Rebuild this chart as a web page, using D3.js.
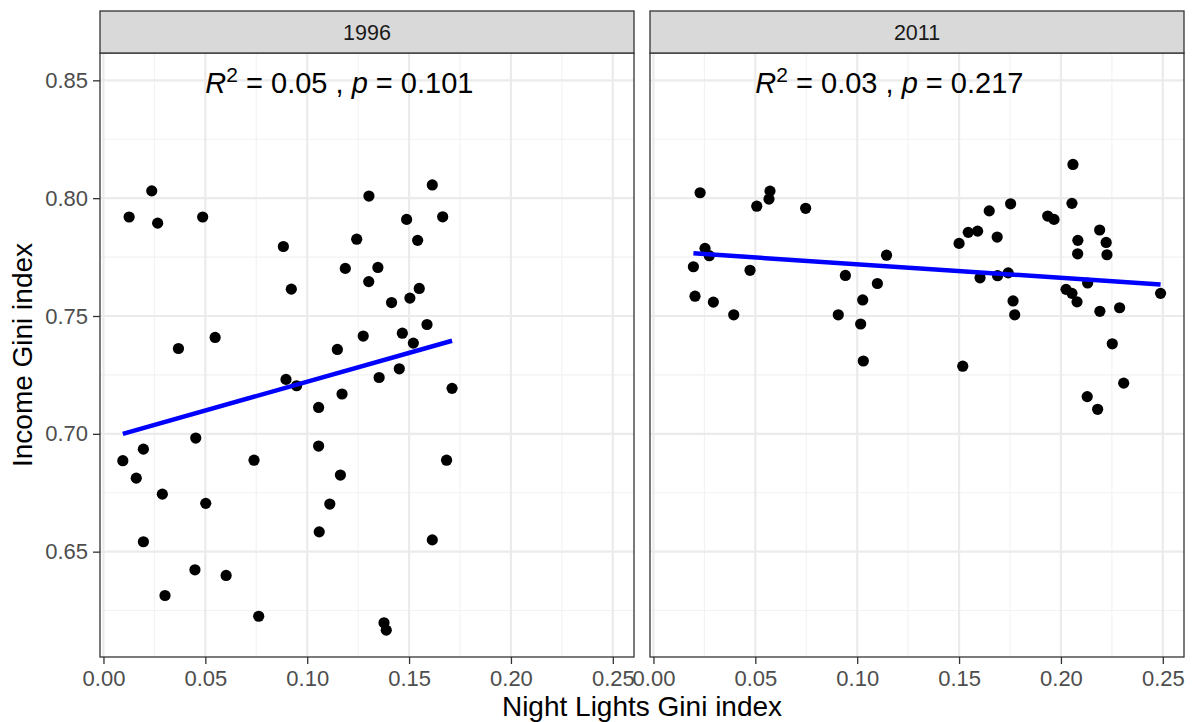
<!DOCTYPE html>
<html>
<head>
<meta charset="utf-8">
<script src="https://cdn.jsdelivr.net/npm/d3@7"></script>
<style>
  body { margin: 0; background: #fff; }
  text { font-family: "Liberation Sans", Arial, sans-serif; }
</style>
</head>
<body>
<script>
const years = ["1996", "2011"];

const lights1996 = [0.0126,0.0237,0.0266,0.0487,0.0883,0.1243,0.1303,0.1187,0.1347,0.0922,0.1302,0.1414,0.0368,0.0548,0.1275,0.1148,0.0896,0.0948,0.1353,0.1056,0.1171,0.1056,0.0453,0.0196,0.0095,0.0739,0.0161,0.1163,0.0289,0.0502,0.1111,0.1059,0.0196,0.0449,0.0602,0.0302,0.0762,0.1377,0.1388,0.1614,0.1488,0.1665,0.1542,0.1504,0.1550,0.1467,0.1588,0.1521,0.1452,0.1711,0.1684,0.1614];
const income1996 = [0.7920,0.8031,0.7894,0.7920,0.7795,0.7826,0.8009,0.7702,0.7706,0.7614,0.7646,0.7557,0.7362,0.7409,0.7415,0.7358,0.7231,0.7204,0.7239,0.7112,0.7169,0.6948,0.6982,0.6935,0.6886,0.6888,0.6812,0.6825,0.6744,0.6705,0.6702,0.6584,0.6542,0.6423,0.6399,0.6314,0.6226,0.6198,0.6167,0.8056,0.7910,0.7921,0.7821,0.7576,0.7617,0.7427,0.7464,0.7385,0.7276,0.7193,0.6888,0.6550];

const lights2011 = [0.0229,0.0572,0.0567,0.0507,0.0747,0.0253,0.0274,0.0196,0.0474,0.0204,0.0294,0.0394,0.1144,0.0942,0.1099,0.1027,0.0907,0.1017,0.1030,0.2059,0.2054,0.1753,0.1648,0.1935,0.1966,0.1545,0.1591,0.1500,0.1687,0.2190,0.2083,0.2222,0.2082,0.2226,0.1603,0.1689,0.1741,0.2131,0.2025,0.2054,0.2079,0.2489,0.1765,0.1773,0.2191,0.2288,0.2252,0.1518,0.2308,0.2129,0.2180];
const income2011 = [0.8023,0.8030,0.7996,0.7966,0.7957,0.7787,0.7756,0.7709,0.7694,0.7584,0.7559,0.7505,0.7758,0.7672,0.7638,0.7568,0.7505,0.7466,0.7309,0.8143,0.7978,0.7976,0.7946,0.7924,0.7910,0.7855,0.7860,0.7808,0.7835,0.7865,0.7821,0.7812,0.7764,0.7760,0.7662,0.7671,0.7683,0.7640,0.7613,0.7596,0.7560,0.7596,0.7564,0.7505,0.7520,0.7535,0.7382,0.7287,0.7215,0.7158,0.7104];

// fitted lines (ends of the blue lm line)
const fitLights1996 = [0.0095, 0.1711];
const fitIncome1996 = [0.7000, 0.7395];
const fitLights2011 = [0.0196, 0.2489];
const fitIncome2011 = [0.7766, 0.7634];

const r2Labels = ["0.05", "0.03"];
const pLabels = ["0.101", "0.217"];

const xTicks = [0, 0.05, 0.10, 0.15, 0.20, 0.25];
const xMinor = [0.025, 0.075, 0.125, 0.175, 0.225];
const yTicks = [0.65, 0.70, 0.75, 0.80, 0.85];
const yMinor = [0.625, 0.675, 0.725, 0.775, 0.825];

const panels = [
  { year: years[0], x: lights1996, y: income1996, fx: fitLights1996, fy: fitIncome1996, r2: r2Labels[0], p: pLabels[0] },
  { year: years[1], x: lights2011, y: income2011, fx: fitLights2011, fy: fitIncome2011, r2: r2Labels[1], p: pLabels[1] }
];

const W = 1192, H = 722;
const panelW = 534, panelGap = 16, stripH = 42;
const panelTop = 53, panelBottom = 657, panelLeft = 100;
const innerH = panelBottom - panelTop;

const svg = d3.select("body").append("svg")
    .attr("width", W)
    .attr("height", H);

const xScale = d3.scaleLinear().domain([-0.0017, 0.2604]).range([0, panelW]);
const yScale = d3.scaleLinear().domain([0.6053, 0.8616]).range([innerH, 0]);

panels.forEach((pn, i) => {
    const g = svg.append("g")
        .attr("transform", `translate(${panelLeft + i * (panelW + panelGap)},${panelTop})`);

    // grid
    g.selectAll(".xminor").data(xMinor).enter().append("line")
        .attr("x1", d => xScale(d)).attr("x2", d => xScale(d))
        .attr("y1", 0).attr("y2", innerH)
        .attr("stroke", "#f2f2f2").attr("stroke-width", 1.1);
    g.selectAll(".yminor").data(yMinor).enter().append("line")
        .attr("y1", d => yScale(d)).attr("y2", d => yScale(d))
        .attr("x1", 0).attr("x2", panelW)
        .attr("stroke", "#f2f2f2").attr("stroke-width", 1.1);
    g.selectAll(".xmajor").data(xTicks).enter().append("line")
        .attr("x1", d => xScale(d)).attr("x2", d => xScale(d))
        .attr("y1", 0).attr("y2", innerH)
        .attr("stroke", "#ebebeb").attr("stroke-width", 2.2);
    g.selectAll(".ymajor").data(yTicks).enter().append("line")
        .attr("y1", d => yScale(d)).attr("y2", d => yScale(d))
        .attr("x1", 0).attr("x2", panelW)
        .attr("stroke", "#ebebeb").attr("stroke-width", 2.2);

    // points
    g.selectAll(".dot").data(pn.x).enter().append("circle")
        .attr("cx", d => xScale(d))
        .attr("cy", (d, j) => yScale(pn.y[j]))
        .attr("r", 5.6)
        .style("fill", "black");

    // regression line
    g.append("line")
        .attr("x1", xScale(pn.fx[0])).attr("y1", yScale(pn.fy[0]))
        .attr("x2", xScale(pn.fx[1])).attr("y2", yScale(pn.fy[1]))
        .attr("stroke", "#0000ff").attr("stroke-width", 4.5);

    // R2 / p annotation
    const lab = g.append("text")
        .attr("x", xScale(0.05))
        .attr("y", yScale(0.85) + 13)
        .attr("font-size", 29)
        .attr("fill", "black")
        .style("white-space", "pre");
    lab.append("tspan").attr("font-style", "italic").text("R");
    lab.append("tspan").attr("font-size", 21).attr("dy", -11).text("2");
    lab.append("tspan").attr("dy", 11).text(` = ${pn.r2} , `);
    lab.append("tspan").attr("font-style", "italic").text("p");
    lab.append("tspan").text(` = ${pn.p}`);

    // panel border
    g.append("rect")
        .attr("width", panelW).attr("height", innerH)
        .attr("fill", "none").attr("stroke", "#333333").attr("stroke-width", 1.3);

    // strip
    g.append("rect")
        .attr("y", -stripH).attr("width", panelW).attr("height", stripH)
        .attr("fill", "#d9d9d9").attr("stroke", "#333333").attr("stroke-width", 1.3);
    g.append("text")
        .attr("x", panelW / 2).attr("y", -stripH / 2)
        .attr("dy", "0.36em")
        .attr("text-anchor", "middle")
        .attr("font-size", 21.5)
        .attr("fill", "#1a1a1a")
        .text(pn.year);

    // x axis
    const xAxis = d3.axisBottom(xScale)
        .tickValues(xTicks)
        .tickFormat(d3.format(".2f"))
        .tickSizeInner(7).tickSizeOuter(0).tickPadding(6);
    const xg = g.append("g").attr("transform", `translate(0,${innerH})`).call(xAxis);
    xg.select(".domain").remove();
    xg.selectAll(".tick line").attr("stroke", "#333333").attr("stroke-width", 1.3);
    xg.selectAll(".tick text").attr("font-size", 22).attr("fill", "#4d4d4d")
        .style("font-family", "'Liberation Sans', Arial, sans-serif");

    // y axis only on first facet
    if (i === 0) {
        const yAxis = d3.axisLeft(yScale)
            .tickValues(yTicks)
            .tickFormat(d3.format(".2f"))
            .tickSizeInner(7).tickSizeOuter(0).tickPadding(5);
        const yg = g.append("g").call(yAxis);
        yg.select(".domain").remove();
        yg.selectAll(".tick line").attr("stroke", "#333333").attr("stroke-width", 1.3);
        yg.selectAll(".tick text").attr("font-size", 22).attr("fill", "#4d4d4d")
            .style("font-family", "'Liberation Sans', Arial, sans-serif");
    }
});

// axis titles
svg.append("text")
    .attr("x", panelLeft + panelW + panelGap / 2)
    .attr("y", 716)
    .attr("text-anchor", "middle")
    .attr("font-size", 28)
    .attr("fill", "black")
    .text("Night Lights Gini index");

svg.append("text")
    .attr("transform", `translate(32,${(panelTop + panelBottom) / 2}) rotate(-90)`)
    .attr("text-anchor", "middle")
    .attr("font-size", 28)
    .attr("fill", "black")
    .text("Income Gini index");
</script>
</body>
</html>
